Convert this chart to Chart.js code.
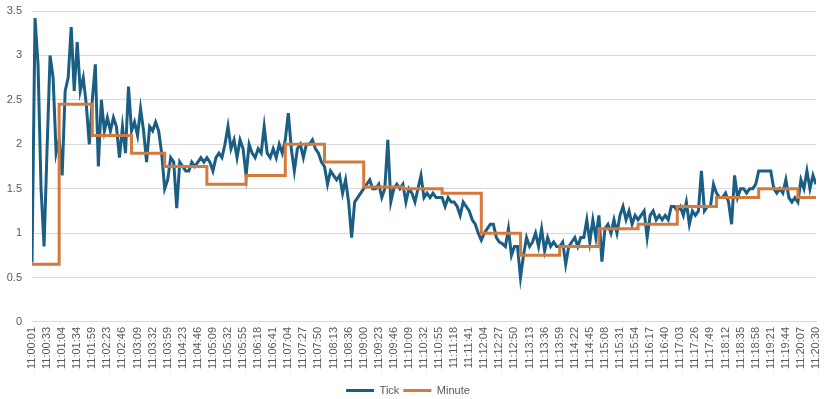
<!DOCTYPE html>
<html>
<head>
<meta charset="utf-8">
<script src="https://cdn.jsdelivr.net/npm/chart.js@4"></script>
<style>
html, body { margin: 0; padding: 0; background: #fff; }
#wrap { width: 825px; height: 399px; }
</style>
</head>
<body>
<div id="wrap"><canvas id="chart"></canvas></div>
<script>
// Time labels shown on the x axis (every 5th tick)
const tickLabels = [
    '11:00:01', '11:00:33', '11:01:04', '11:01:34', '11:01:59', '11:02:23', '11:02:46', '11:03:09',
    '11:03:32', '11:03:59', '11:04:23', '11:04:46', '11:05:09', '11:05:32', '11:05:55', '11:06:18',
    '11:06:41', '11:07:04', '11:07:27', '11:07:50', '11:08:13', '11:08:36', '11:09:00', '11:09:23',
    '11:09:46', '11:10:09', '11:10:32', '11:10:55', '11:11:18', '11:11:41', '11:12:04', '11:12:27',
    '11:12:50', '11:13:13', '11:13:36', '11:13:59', '11:14:22', '11:14:45', '11:15:08', '11:15:31',
    '11:15:54', '11:16:17', '11:16:40', '11:17:03', '11:17:26', '11:17:49', '11:18:12', '11:18:35',
    '11:18:58', '11:19:21', '11:19:44', '11:20:07', '11:20:30'
];
const ticksPerLabel = 5;

// Tick values, one row per label interval
const tickValues = [
    0.67, 3.42, 2.9, 1.5, 0.85,
    1.95, 3.0, 2.75, 1.9, 2.05,
    1.65, 2.6, 2.75, 3.32, 2.6,
    3.15, 2.6, 2.75, 2.45, 2.0,
    2.5, 2.9, 1.75, 2.5, 2.15,
    2.3, 2.15, 2.3, 2.2, 1.85,
    2.2, 1.9, 2.65, 2.15, 2.25,
    2.1, 2.4, 2.15, 1.8, 2.2,
    2.15, 2.25, 2.15, 1.9, 1.5,
    1.6, 1.85, 1.8, 1.28, 1.8,
    1.75, 1.7, 1.7, 1.8, 1.75,
    1.8, 1.85, 1.8, 1.85, 1.8,
    1.7, 1.85, 1.9, 1.85, 2.0,
    2.2, 1.95, 2.05, 1.85, 2.05,
    1.95, 1.65, 2.0, 1.9, 1.85,
    1.95, 1.9, 2.2, 1.9, 1.85,
    1.95, 1.85, 2.0, 1.9, 2.05,
    2.35, 1.95, 1.7, 1.95, 2.0,
    1.85, 2.0, 2.0, 2.05, 1.95,
    1.9, 1.8, 1.75, 1.55, 1.7,
    1.65, 1.6, 1.65, 1.45, 1.6,
    1.35, 0.95, 1.35, 1.4, 1.45,
    1.5, 1.55, 1.6, 1.5, 1.5,
    1.55, 1.4, 1.5, 2.05, 1.35,
    1.5, 1.55, 1.5, 1.55, 1.35,
    1.5, 1.45, 1.35, 1.5, 1.65,
    1.4, 1.45, 1.4, 1.45, 1.4,
    1.4, 1.4, 1.3, 1.4, 1.35,
    1.35, 1.3, 1.2, 1.35, 1.3,
    1.25, 1.15, 1.1, 1.0, 0.92,
    1.0, 1.05, 1.1, 1.1, 0.95,
    0.9, 0.88, 0.85, 1.05, 0.75,
    0.85, 0.85, 0.5, 0.75, 0.95,
    0.85, 0.9, 1.0, 0.85, 1.05,
    0.8, 0.95, 0.85, 0.9, 0.85,
    0.85, 0.9, 0.65, 0.85, 0.9,
    0.95, 0.85, 0.95, 0.95, 1.15,
    0.9, 1.15, 0.95, 1.2, 0.68,
    1.05, 1.1, 1.0, 1.15, 1.0,
    1.2, 1.3, 1.15, 1.25, 1.1,
    1.2, 1.15, 1.2, 1.25, 0.95,
    1.2, 1.25, 1.15, 1.2, 1.15,
    1.2, 1.15, 1.3, 1.3, 1.25,
    1.3, 1.2, 1.35, 1.1, 1.25,
    1.2, 1.25, 1.7, 1.25, 1.3,
    1.3, 1.55, 1.45, 1.4, 1.4,
    1.45, 1.35, 1.1, 1.65, 1.4,
    1.5, 1.5, 1.45, 1.5, 1.5,
    1.55, 1.7, 1.7, 1.7, 1.7,
    1.7, 1.5, 1.45, 1.5, 1.45,
    1.6, 1.4, 1.35, 1.4, 1.35,
    1.6, 1.5, 1.7, 1.5, 1.65,
    1.55
];

// Minute averages and the tick index where each minute begins
const minuteStart = [0, 9, 20, 33, 44, 58, 71, 84, 97, 110, 123, 136, 149, 162, 175, 188, 201, 214, 227, 241, 254];
const minuteAvg = [0.65, 2.45, 2.1, 1.9, 1.75, 1.55, 1.65, 2.0, 1.8, 1.52, 1.5, 1.45, 1.0, 0.75, 0.85, 1.05, 1.1, 1.3, 1.4, 1.5, 1.4];

const lastIndex = tickValues.length - 1;
const tickPoints = tickValues.map((v, i) => ({ x: i, y: v }));
const minutePoints = minuteStart.map((s, k) => ({ x: s, y: minuteAvg[k] }));
minutePoints.push({ x: lastIndex, y: minuteAvg[minuteAvg.length - 1] });

const textColor = '#595959';
const gridColor = '#d9d9d9';
const font = { family: 'Liberation Sans', size: 11 };

const ctx = document.getElementById('chart').getContext('2d');
new Chart(ctx, {
    type: 'line',
    data: {
        datasets: [{
            label: 'Tick',
            data: tickPoints,
            borderColor: '#1b5e84',
            backgroundColor: '#1b5e84',
            borderWidth: 3,
            pointRadius: 0,
            tension: 0,
            order: 2
        }, {
            label: 'Minute',
            data: minutePoints,
            borderColor: '#d5793d',
            backgroundColor: '#d5793d',
            borderWidth: 3,
            pointRadius: 0,
            stepped: 'before',
            order: 1
        }]
    },
    options: {
        responsive: true,
        maintainAspectRatio: false,
        animation: false,
        layout: { padding: { left: 0, right: 9, top: 11, bottom: -7 } },
        plugins: {
            tooltip: { enabled: false },
            legend: {
                position: 'bottom',
                labels: {
                    color: textColor,
                    font: font,
                    usePointStyle: true,
                    pointStyle: 'line',
                    pointStyleWidth: 28,
                    padding: 4,
                    sort: (a, b) => a.datasetIndex - b.datasetIndex
                }
            }
        },
        scales: {
            x: {
                type: 'linear',
                min: 0,
                max: lastIndex,
                grid: { display: false, drawTicks: false },
                border: { display: true, color: gridColor },
                ticks: {
                    stepSize: ticksPerLabel,
                    autoSkip: false,
                    maxRotation: 90,
                    minRotation: 90,
                    padding: 5,
                    color: textColor,
                    font: font,
                    callback: v => tickLabels[Math.round(v / ticksPerLabel)] || ''
                },
                afterFit: scale => {
                    scale.height += 7;
                    scale.paddingLeft = 0;
                    scale.paddingRight = 0;
                }
            },
            y: {
                min: 0,
                max: 3.5,
                grid: { color: gridColor, drawTicks: false },
                border: { display: false },
                ticks: {
                    stepSize: 0.5,
                    padding: 10,
                    color: textColor,
                    font: font,
                    callback: v => String(v)
                },
                afterFit: scale => {
                    scale.width = 32;
                    scale.paddingTop = 0;
                    scale.paddingBottom = 0;
                }
            }
        }
    }
});
</script>
</body>
</html>
